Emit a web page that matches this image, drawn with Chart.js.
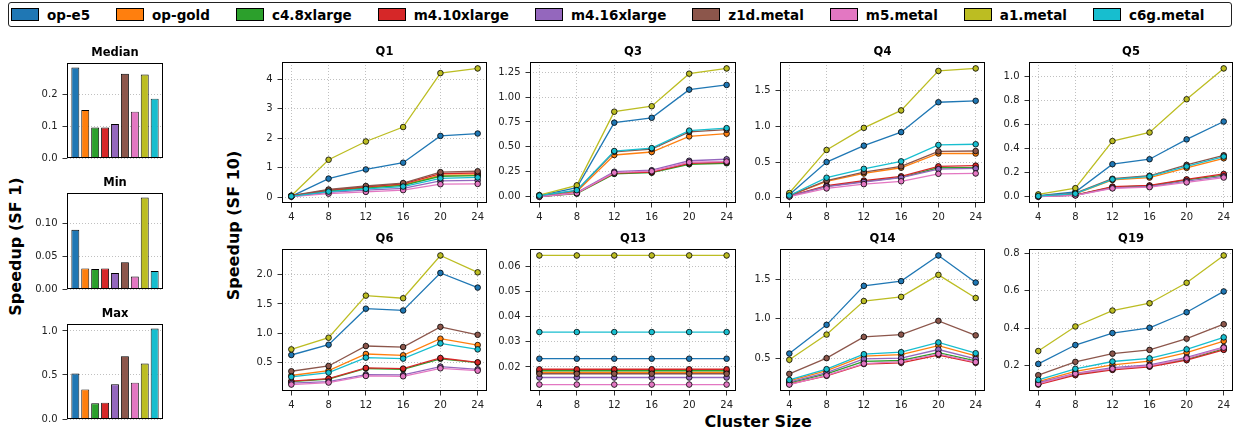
<!DOCTYPE html>
<html><head><meta charset="utf-8">
<script src="https://cdn.jsdelivr.net/npm/chart.js@4"></script>
<style>
body{margin:0;width:1235px;height:433px;background:#fff;position:relative;overflow:hidden;font-family:"DejaVu Sans",sans-serif;}
canvas{position:absolute;}
#legend{position:absolute;left:8px;top:2px;width:1224px;height:25px;box-sizing:border-box;border:1px solid #222;border-radius:3px;display:flex;align-items:center;padding-left:2px;gap:26px;font:bold 13.5px "DejaVu Sans";color:#000;}
.item{display:flex;align-items:center;gap:8px;white-space:nowrap;}
.sw{width:28px;height:13px;border:1px solid #000;box-sizing:border-box;}
.lab{position:absolute;font:bold 16px "DejaVu Sans";color:#000;white-space:nowrap;transform-origin:center center;}
</style></head>
<body>
<div id="legend"></div>
<div class="lab" id="ylab1">Speedup (SF 1)</div>
<div class="lab" id="ylab10">Speedup (SF 10)</div>
<div class="lab" id="xlab">Cluster Size</div>
<script>
// ---------- data ----------
const series = ['op-e5','op-gold','c4.8xlarge','m4.10xlarge','m4.16xlarge','z1d.metal','m5.metal','a1.metal','c6g.metal'];
const palette = ['#1f77b4','#ff7f0e','#2ca02c','#d62728','#9467bd','#8c564b','#e377c2','#bcbd22','#17becf'];
const clusterSizes = [4,8,12,16,20,24];
const xTicks = [4,8,12,16,20,24];

const medianSpeedup = [0.285,0.151,0.096,0.096,0.107,0.265,0.146,0.263,0.187];
const minSpeedup    = [0.0906,0.0315,0.0305,0.0315,0.0245,0.041,0.019,0.140,0.0276];
const maxSpeedup    = [0.516,0.336,0.179,0.185,0.395,0.714,0.413,0.630,1.028];
const medianTicks = [0,0.1,0.2];
const minTicks    = [0,0.05,0.10];
const maxTicks    = [0,0.5,1.0];

// rows follow the order of `series`
const q1 = [
  [0.03,0.63,0.94,1.17,2.08,2.16],
  [0.04,0.22,0.33,0.42,0.75,0.76],
  [0.03,0.21,0.31,0.40,0.71,0.73],
  [0.04,0.24,0.35,0.45,0.80,0.82],
  [0.02,0.16,0.24,0.30,0.55,0.57],
  [0.05,0.26,0.38,0.48,0.85,0.88],
  [0.02,0.12,0.18,0.24,0.44,0.45],
  [0.05,1.27,1.89,2.38,4.21,4.37],
  [0.03,0.19,0.28,0.36,0.64,0.67]];
const q1Ticks = [0,1,2,3,4];

const q3 = [
  [0.01,0.09,0.743,0.792,1.075,1.122],
  [0.01,0.05,0.418,0.448,0.605,0.632],
  [0.00,0.03,0.228,0.240,0.325,0.335],
  [0.00,0.035,0.235,0.245,0.335,0.345],
  [0.00,0.04,0.250,0.265,0.360,0.375],
  [0.01,0.06,0.450,0.478,0.650,0.672],
  [0.00,0.035,0.240,0.255,0.345,0.352],
  [0.015,0.113,0.853,0.908,1.235,1.288],
  [0.01,0.065,0.458,0.487,0.663,0.688]];
const q3Ticks = [0,0.25,0.5,0.75,1.0,1.25];

const q4 = [
  [0.04,0.50,0.73,0.92,1.34,1.36],
  [0.03,0.23,0.34,0.42,0.62,0.62],
  [0.02,0.16,0.23,0.285,0.42,0.42],
  [0.02,0.17,0.24,0.30,0.44,0.45],
  [0.02,0.155,0.22,0.28,0.40,0.41],
  [0.03,0.24,0.36,0.44,0.65,0.655],
  [0.015,0.13,0.19,0.23,0.335,0.34],
  [0.065,0.67,0.98,1.225,1.78,1.815],
  [0.03,0.28,0.405,0.51,0.74,0.75]];
const q4Ticks = [0,0.5,1.0,1.5];

const q5 = [
  [0.01,0.04,0.271,0.312,0.477,0.625],
  [0.005,0.025,0.14,0.16,0.24,0.32],
  [0.003,0.015,0.08,0.09,0.14,0.18],
  [0.003,0.015,0.085,0.095,0.145,0.19],
  [0.003,0.013,0.075,0.085,0.13,0.17],
  [0.006,0.03,0.15,0.175,0.265,0.345],
  [0.002,0.012,0.07,0.08,0.12,0.16],
  [0.02,0.072,0.463,0.534,0.81,1.066],
  [0.006,0.026,0.145,0.17,0.252,0.334]];
const q5Ticks = [0,0.2,0.4,0.6,0.8,1.0];

const q6 = [
  [0.63,0.805,1.42,1.39,2.03,1.78],
  [0.28,0.364,0.647,0.625,0.908,0.80],
  [0.175,0.22,0.40,0.385,0.565,0.50],
  [0.183,0.228,0.409,0.398,0.579,0.505],
  [0.15,0.177,0.296,0.29,0.432,0.386],
  [0.353,0.443,0.783,0.766,1.11,0.975],
  [0.126,0.16,0.273,0.267,0.403,0.363],
  [0.726,0.925,1.643,1.598,2.328,2.04],
  [0.256,0.33,0.585,0.568,0.828,0.726]];
const q6Ticks = [0.5,1.0,1.5,2.0];

const q13 = [
  [0.0233,0.0233,0.0233,0.0233,0.0233,0.0233],
  [0.0178,0.0178,0.0178,0.0178,0.0178,0.0178],
  [0.0185,0.0185,0.0185,0.0185,0.0185,0.0185],
  [0.0191,0.0191,0.0191,0.0191,0.0191,0.0191],
  [0.0158,0.0158,0.0158,0.0158,0.0158,0.0158],
  [0.0173,0.0173,0.0173,0.0173,0.0173,0.0173],
  [0.0130,0.0130,0.0130,0.0130,0.0130,0.0130],
  [0.0644,0.0644,0.0644,0.0644,0.0644,0.0644],
  [0.0339,0.0339,0.0339,0.0339,0.0339,0.0339]];
const q13Ticks = [0.02,0.03,0.04,0.05,0.06];

const q14 = [
  [0.559,0.924,1.42,1.48,1.807,1.462],
  [0.21,0.34,0.525,0.545,0.66,0.53],
  [0.185,0.30,0.46,0.47,0.57,0.465],
  [0.17,0.275,0.425,0.44,0.54,0.44],
  [0.195,0.315,0.49,0.50,0.61,0.49],
  [0.30,0.50,0.77,0.80,0.975,0.79],
  [0.164,0.28,0.43,0.455,0.555,0.45],
  [0.479,0.80,1.227,1.28,1.56,1.265],
  [0.223,0.36,0.55,0.576,0.70,0.563]];
const q14Ticks = [0.5,1.0,1.5];

const q19 = [
  [0.21,0.311,0.375,0.403,0.486,0.597],
  [0.115,0.17,0.205,0.225,0.27,0.332],
  [0.105,0.155,0.182,0.198,0.235,0.29],
  [0.10,0.15,0.178,0.195,0.23,0.285],
  [0.11,0.16,0.19,0.205,0.245,0.30],
  [0.15,0.221,0.265,0.285,0.345,0.422],
  [0.103,0.158,0.184,0.20,0.24,0.297],
  [0.279,0.41,0.495,0.534,0.643,0.789],
  [0.125,0.184,0.223,0.24,0.288,0.352]];
const q19Ticks = [0.2,0.4,0.6,0.8];

// ---------- helpers ----------
Chart.defaults.font.family = '"DejaVu Sans"';
Chart.defaults.color = '#000';

const framePlugin = {
  id: 'frame',
  afterDatasetsDraw(chart) {
    const {ctx, chartArea: a} = chart;
    ctx.save();
    ctx.strokeStyle = '#000';
    ctx.lineWidth = 1;
    const l = Math.round(a.left) + 0.5, t = Math.round(a.top) + 0.5;
    const r = Math.round(a.right) - 0.5, b = Math.round(a.bottom) - 0.5;
    ctx.strokeRect(l, t, r - l, b - t);
    ctx.restore();
  }
};

const TITLE_FONT = {family: '"DejaVu Sans"', size: 11.5, weight: 'bold', lineHeight: 1};
const TH = 20; // 4.5 + 11.5 + 4
const gridStyle = {color: '#b0b0b0', lineWidth: 0.8, tickLength: 4.5, tickColor: '#000', tickWidth: 0.8, tickBorderDash: [], offset: false};
const borderStyle = {display: false, dash: [1, 2]};
const tickFont = {family: '"DejaVu Sans"', size: 10};

function addCanvas(left, top, w, h) {
  const cv = document.createElement('canvas');
  cv.width = w; cv.height = h;
  cv.style.left = left + 'px'; cv.style.top = top + 'px';
  cv.style.width = w + 'px'; cv.style.height = h + 'px';
  document.body.appendChild(cv);
  return cv;
}

function makeLine(title, rows, yTicks, dec, box) {
  const YW = 50, XH = 28, RP = 14;
  const all = rows.flat();
  const lo = Math.min(...all), hi = Math.max(...all), pad = (hi - lo) * 0.05;
  const cv = addCanvas(box.l - YW, box.t - TH, box.r - box.l + YW + RP, box.b - box.t + TH + XH);
  new Chart(cv, {
    type: 'line',
    data: {datasets: rows.map((r, i) => ({
      label: series[i],
      data: clusterSizes.map((x, j) => ({x, y: r[j]})),
      borderColor: palette[i], backgroundColor: palette[i],
      pointBackgroundColor: palette[i], pointBorderColor: '#000',
      pointBorderWidth: 0.8, pointRadius: 2.8, borderWidth: 1.3,
      tension: 0, clip: false, order: rows.length - i
    }))},
    options: {
      responsive: false, animation: false, devicePixelRatio: 1,
      layout: {padding: {left: 0, top: 0, right: RP, bottom: 0}},
      plugins: {
        legend: {display: false}, tooltip: {enabled: false},
        title: {display: true, text: title, fullSize: false, font: TITLE_FONT, color: '#000', padding: {top: 4.5, bottom: 4}}
      },
      scales: {
        x: {
          type: 'linear', min: 3, max: 25, bounds: 'data', offset: false,
          afterBuildTicks: ax => { ax.ticks = xTicks.map(v => ({value: v})); },
          afterFit: s => { s.height = XH; },
          ticks: {autoSkip: false, maxRotation: 0, font: tickFont, color: '#222', padding: 4, callback: v => String(v)},
          grid: gridStyle, border: borderStyle
        },
        y: {
          type: 'linear', min: lo - pad, max: hi + pad, bounds: 'data',
          afterBuildTicks: ax => { ax.ticks = yTicks.map(v => ({value: v})); },
          afterFit: s => { s.width = YW; },
          ticks: {autoSkip: false, font: tickFont, color: '#222', padding: 5, callback: v => Number(v).toFixed(dec)},
          grid: gridStyle, border: borderStyle
        }
      }
    },
    plugins: [framePlugin]
  });
}

function makeBar(title, values, yTicks, dec, box) {
  const YW = 45, BP = 8, RP = 6;
  const hi = Math.max(...values) * 1.05;
  const cv = addCanvas(box.l - YW, box.t - TH, box.r - box.l + YW + RP, box.b - box.t + TH + BP);
  new Chart(cv, {
    type: 'bar',
    data: {datasets: [{
      data: values.map((v, i) => ({x: i, y: v})),
      backgroundColor: palette, borderColor: '#000', borderWidth: 0.9,
      barPercentage: 0.8, categoryPercentage: 1.0, grouped: false
    }]},
    options: {
      responsive: false, animation: false, devicePixelRatio: 1,
      layout: {padding: {left: 0, top: 0, right: RP, bottom: BP}},
      plugins: {
        legend: {display: false}, tooltip: {enabled: false},
        title: {display: true, text: title, fullSize: false, font: TITLE_FONT, color: '#000', padding: {top: 4.5, bottom: 4}}
      },
      scales: {
        x: {type: 'linear', min: -0.84, max: values.length - 1 + 0.84, bounds: 'data', offset: false,
            grid: {offset: false}, display: false},
        y: {
          type: 'linear', min: 0, max: hi, bounds: 'data',
          afterBuildTicks: ax => { ax.ticks = yTicks.map(v => ({value: v})); },
          afterFit: s => { s.width = YW; },
          ticks: {autoSkip: false, font: tickFont, color: '#222', padding: 5, callback: v => Number(v).toFixed(dec)},
          grid: gridStyle, border: borderStyle
        }
      }
    },
    plugins: [framePlugin]
  });
}

// ---------- legend ----------
const lg = document.getElementById('legend');
series.forEach((s, i) => {
  const it = document.createElement('div'); it.className = 'item';
  const sw = document.createElement('div'); sw.className = 'sw'; sw.style.background = palette[i];
  const tx = document.createElement('span'); tx.textContent = s;
  it.appendChild(sw); it.appendChild(tx); lg.appendChild(it);
});

// ---------- axis labels ----------
function placeLabel(id, cx, cy, rot) {
  const el = document.getElementById(id);
  const w = el.offsetWidth, h = el.offsetHeight;
  el.style.left = (cx - w / 2) + 'px'; el.style.top = (cy - h / 2) + 'px';
  if (rot) el.style.transform = 'rotate(' + rot + 'deg)';
}
placeLabel('ylab1', 15, 246, -90);
placeLabel('ylab10', 233, 225, -90);
placeLabel('xlab', 758, 421, 0);

// ---------- charts ----------
makeBar('Median', medianSpeedup, medianTicks, 1, {l: 67, t: 63, r: 163, b: 161});
makeBar('Min', minSpeedup, minTicks, 2, {l: 67, t: 193, r: 163, b: 292});
makeBar('Max', maxSpeedup, maxTicks, 1, {l: 67, t: 324, r: 163, b: 422});

const TOP = {t: 62, b: 203}, BOT = {t: 249, b: 391};
makeLine('Q1', q1, q1Ticks, 0, {l: 282, r: 487, ...TOP});
makeLine('Q3', q3, q3Ticks, 2, {l: 530, r: 736, ...TOP});
makeLine('Q4', q4, q4Ticks, 1, {l: 780, r: 985, ...TOP});
makeLine('Q5', q5, q5Ticks, 1, {l: 1029, r: 1233, ...TOP});
makeLine('Q6', q6, q6Ticks, 1, {l: 282, r: 487, ...BOT});
makeLine('Q13', q13, q13Ticks, 2, {l: 530, r: 736, ...BOT});
makeLine('Q14', q14, q14Ticks, 1, {l: 780, r: 985, ...BOT});
makeLine('Q19', q19, q19Ticks, 1, {l: 1029, r: 1233, ...BOT});
</script>
</body></html>
